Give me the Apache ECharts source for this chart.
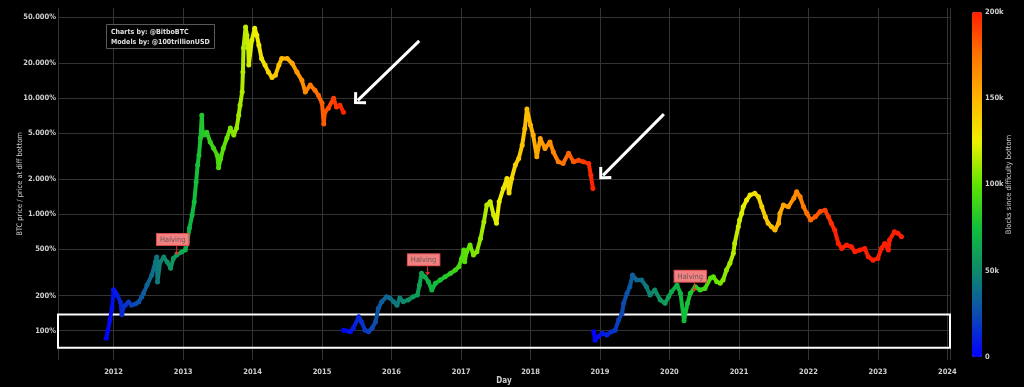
<!DOCTYPE html>
<html><head><meta charset="utf-8">
<script src="https://cdn.jsdelivr.net/npm/echarts@6/dist/echarts.min.js"></script>
<style>html,body{margin:0;padding:0;background:#000}#c{width:1024px;height:387px}</style>
</head><body><div id="c"></div>
<script>
// ---- DATA ----
// BTC price / price at difficulty bottom (%) per cycle
const cycle1 = [
['2011-11-24',86],['2011-12-02',100],['2011-12-13',124],['2011-12-24',157],['2012-01-01',225],['2012-01-10',215],
['2012-01-19',203],['2012-02-06',177],['2012-02-14',137],['2012-02-22',160],['2012-03-03',166],['2012-03-20',177],
['2012-04-05',166],['2012-04-25',170],['2012-05-12',177],['2012-05-28',195],['2012-06-07',211],['2012-06-25',247],
['2012-07-20',301],['2012-08-08',390],['2012-08-15',430],['2012-08-19',263],['2012-09-02',390],['2012-09-21',430],
['2012-10-09',390],['2012-10-27',345],['2012-11-11',420],['2012-11-28',448],['2012-12-24',475],['2013-01-12',494],
['2013-01-23',580],['2013-02-03',765],['2013-02-17',989],['2013-02-28',1280],['2013-03-10',1900],['2013-03-18',2660],
['2013-03-25',3240],['2013-04-02',4550],['2013-04-09',7160],['2013-04-13',5000],['2013-04-20',4820],['2013-05-05',5100],
['2013-05-23',4200],['2013-06-10',3720],['2013-06-29',3240],['2013-07-06',2520],['2013-07-17',3020],['2013-07-31',3720],
['2013-08-19',4550],['2013-09-06',5550],['2013-09-24',4820],['2013-10-09',5550],['2013-10-20',7160],['2013-10-27',8700],
['2013-11-07',11300],['2013-11-11',16800],['2013-11-14',27100],['2013-11-25',41000],['2013-12-02',34900],['2013-12-09',27100],
['2013-12-12',19300],['2013-12-28',31600],['2014-01-12',40000],['2014-01-23',34900],['2014-02-03',28600],['2014-02-17',22000],
['2014-03-07',19300],['2014-03-25',16800],['2014-04-13',15100],['2014-05-01',15800],['2014-05-19',19300],['2014-06-03',22000],
['2014-07-02',22000],['2014-07-28',20000],['2014-08-22',16800],['2014-09-17',14300],['2014-10-05',11300],['2014-10-31',13000],
['2014-11-25',11700],['2014-12-13',10600],['2015-01-01',9100],['2015-01-10',6000],['2015-01-16',7600],['2015-02-03',8200],
['2015-03-03',10000],['2015-03-18',8400],['2015-04-05',8700],['2015-04-24',7600]
];
const cycle2 = [
['2015-04-24',101],['2015-05-30',98],['2015-06-14',105],['2015-07-13',132],['2015-07-28',119],['2015-08-15',101],
['2015-09-02',98],['2015-09-21',105],['2015-10-09',119],['2015-10-24',156],['2015-11-11',178],['2015-12-06',196],
['2015-12-24',191],['2016-01-12',178],['2016-01-30',166],['2016-02-14',191],['2016-03-03',178],['2016-03-29',184],
['2016-04-24',196],['2016-05-16',203],['2016-05-27',247],['2016-06-07',312],['2016-06-25',291],['2016-07-13',264],
['2016-07-31',224],['2016-08-19',256],['2016-09-13',273],['2016-10-09',291],['2016-11-07',312],['2016-12-02',333],
['2016-12-20',355],['2017-01-04',419],['2017-01-15',494],['2017-01-20',393],['2017-01-30',478],['2017-02-17',546],
['2017-03-07',448],['2017-03-25',478],['2017-04-13',621],['2017-05-01',866],['2017-05-16',1205],['2017-06-03',1290],
['2017-06-21',989],['2017-07-06',840],['2017-07-20',1290],['2017-08-11',1670],['2017-08-30',2040],['2017-09-10',1530],
['2017-09-24',2040],['2017-10-13',2670],['2017-10-31',3030],['2017-11-18',3950],['2017-12-02',5500],['2017-12-13',8100],
['2018-01-01',5870],['2018-01-15',4820],['2018-02-03',3140],['2018-02-21',4500],['2018-03-18',3700],['2018-04-13',4200],
['2018-05-01',3450],['2018-05-27',2840],['2018-06-21',2750],['2018-07-20',3370],['2018-08-15',2840],['2018-09-10',2930],
['2018-10-05',2840],['2018-11-03',2750],['2018-11-14',2180],['2018-11-25',1670]
];
const cycle3 = [
['2018-11-29',98],['2018-12-06',83],['2018-12-24',89],['2019-01-12',95],['2019-02-06',92],['2019-03-03',98],
['2019-03-22',101],['2019-04-09',124],['2019-04-27',141],['2019-05-05',172],['2019-05-23',210],['2019-06-07',239],
['2019-06-21',301],['2019-07-13',273],['2019-08-08',273],['2019-09-02',239],['2019-09-21',203],['2019-10-16',224],
['2019-11-14',184],['2019-12-09',172],['2019-12-28',196],['2020-01-12',216],['2020-02-10',247],['2020-02-28',210],
['2020-03-18',122],['2020-04-05',172],['2020-04-20',210],['2020-05-16',239],['2020-06-10',224],['2020-07-06',231],
['2020-08-04',284],['2020-08-19',291],['2020-09-06',264],['2020-09-24',256],['2020-10-09',273],['2020-10-27',333],
['2020-11-14',380],['2020-12-02',463],['2020-12-09',563],['2020-12-28',784],['2021-01-04',896],['2021-01-15',1020],
['2021-01-23',1165],['2021-02-10',1330],['2021-02-28',1470],['2021-03-25',1520],['2021-04-13',1420],['2021-05-01',1165],
['2021-05-19',955],['2021-06-03',840],['2021-06-21',784],['2021-07-09',735],['2021-07-28',840],['2021-08-04',1020],
['2021-08-22',1205],['2021-09-17',1165],['2021-10-16',1380],['2021-10-31',1570],['2021-11-18',1420],['2021-12-06',1165],
['2021-12-24',1020],['2022-01-12',896],['2022-02-06',955],['2022-03-03',1060],['2022-03-29',1090],['2022-04-16',955],
['2022-05-01',840],['2022-05-19',735],['2022-06-07',563],['2022-06-25',510],['2022-07-20',546],['2022-08-15',528],
['2022-09-02',478],['2022-09-28',494],['2022-10-24',510],['2022-11-11',433],['2022-12-06',405],['2023-01-01',419],
['2023-01-19',510],['2023-02-06',563],['2023-02-25',494],['2023-03-03',603],['2023-03-29',710],['2023-04-16',690],
['2023-05-05',645]
];
// dates at which each cycle is at 0 and at 200k blocks since the difficulty bottom
const cycleBlockSpan = [['2011-11-22','2015-05-01'],['2015-04-15','2018-12-01'],['2018-11-25','2022-06-01']];
const yTicks = [100,200,500,1000,2000,5000,10000,20000,50000];
const blockTicks = [0,50000,100000,150000,200000];
const halvings = [['2012-11-28',448],['2016-07-09',300],['2020-05-11',216]];
const arrows = [
  [['2016-05-26',31190],['2015-07-08',9583]],
  [['2019-12-03',7300],['2019-01-17',2171]],
  [['2024-02-16',1469],['2023-06-21',615]]
];
const highlightBand = [71.4, 138];
const blockColors = ['#0000ff','#0c4cb0','#0e8a6a','#10bf3a','#60e400','#eef000','#ffb400','#ff7400','#ff1e00'];

// ---- CHART ----
const F = '"DejaVu Sans Condensed","DejaVu Sans",sans-serif';
const chart = echarts.init(document.getElementById('c'), null, {renderer:'canvas'});
const tparse = s => +echarts.time.parse(s);
function fmtPct(v){ return String(Math.round(v)).replace(/\B(?=(\d{3})+(?!\d))/g,'.') + '%'; }
const chevron = 'path://M8.5,0 L17,8.5 L14.88,10.62 L8.5,4.24 L2.12,10.62 L0,8.5 Z';
const smallArrow = 'path://M2,0 L3,0 L3,6 L5,6 L2.5,9 L0,6 L2,6 Z';
const lbl = {color:'#cfcfcf', fontSize:7.5, fontWeight:'bold', fontFamily:F};

const cycleSeries = [cycle1, cycle2, cycle3].map((d,i)=>({
  type:'line', data:d, xAxisIndex:0, yAxisIndex:0,
  symbol:'circle', symbolSize:5, showSymbol:true, showAllSymbol:true,
  lineStyle:{width:4, cap:'round', join:'round'}, itemStyle:{borderWidth:0},
  silent:true, animation:false, z:3
}));

const option = {
  backgroundColor:'#000',
  animation:false,
  title:{
    text:'Charts by: @BitboBTC\nModels by: @100trillionUSD', left:106, top:24,
    padding:[3,5,2,5], borderColor:'#5a5a5a', borderWidth:1, backgroundColor:'#000',
    textStyle:{color:'#e0e0e0', fontSize:7, fontWeight:'bold', lineHeight:10, fontFamily:F}
  },
  grid:[
    {left:58, right:74, top:8, bottom:27, outerBoundsMode:'none', containLabel:false},
    {left:972, top:12, width:10, height:345, outerBoundsMode:'none', containLabel:false}
  ],
  xAxis:[
    {type:'time', gridIndex:0, min:'2011-03-15', max:'2024-01-15',
     minInterval:360*864e5, maxInterval:370*864e5,
     axisLine:{show:false}, axisTick:{show:false},
     splitLine:{show:true, lineStyle:{color:'#333', width:1}},
     axisLabel:Object.assign({margin:8, showMinLabel:false, showMaxLabel:false,
       formatter:v=>String(new Date(v).getFullYear())}, lbl),
     name:'Day', nameLocation:'middle', nameGap:17, nameMoveOverlap:false,
     nameTextStyle:Object.assign({}, lbl, {fontSize:8, verticalAlign:'top'})},
    {type:'value', gridIndex:1, show:false, min:0, max:1}
  ],
  yAxis:[
    {type:'log', logBase:10, gridIndex:0, min:56, max:59800,
     axisLine:{show:false}, axisTick:{show:false, customValues:yTicks},
     axisLabel:Object.assign({customValues:yTicks, formatter:fmtPct, margin:2}, lbl),
     splitLine:{show:true, lineStyle:{color:'#333', width:1}},
     name:'BTC price / price at diff bottom', nameLocation:'middle', nameGap:34, nameMoveOverlap:false,
     nameTextStyle:Object.assign({}, lbl, {fontSize:7.5, fontWeight:'normal'})},
    {type:'value', gridIndex:1, min:0, max:200000, interval:50000, position:'right',
     axisLine:{show:false}, axisTick:{show:false}, splitLine:{show:false},
     axisLabel:Object.assign({margin:3, formatter:v=>v===0?'0':(v/1000)+'k'}, lbl),
     name:'Blocks since difficulty bottom', nameLocation:'middle', nameRotate:90, nameGap:23, nameMoveOverlap:false,
     nameTextStyle:Object.assign({}, lbl, {fontSize:7.5, fontWeight:'normal'})}
  ],
  visualMap:[
    ...cycleBlockSpan.map((s,i)=>({
      type:'continuous', show:false, seriesIndex:i, dimension:0,
      min:tparse(s[0]), max:tparse(s[1]),
      inRange:{color:blockColors}, outOfRange:{color:[blockColors[blockColors.length-1]]}
    })),
    {type:'continuous', show:true, seriesIndex:4, dimension:1, min:0, max:200000,
     left:972, top:12, itemWidth:10, itemHeight:345, padding:0, calculable:false,
     text:null, orient:'vertical', inRange:{color:blockColors}}
  ],
  series:[
    ...cycleSeries,
    {type:'line', data:[], xAxisIndex:0, yAxisIndex:0, clip:false, silent:true, z:6,
     markArea:{silent:true, itemStyle:{color:'rgba(0,0,0,0)', borderColor:'#fff', borderWidth:2},
       data:[[{yAxis:highlightBand[0]},{yAxis:highlightBand[1]}]]},
     markLine:{silent:true, animation:false, symbol:['none', chevron], symbolSize:[17,10.6],
       lineStyle:{color:'#fff', width:3, type:'solid'}, label:{show:false},
       emphasis:{disabled:true},
       data:arrows.map(a=>[{coord:a[0]},{coord:a[1]}])},
     markPoint:{silent:true, animation:false, symbol:smallArrow, symbolSize:[5,9], symbolOffset:[0,-4.5],
       symbolKeepAspect:false, itemStyle:{color:'#e8302f'},
       label:{show:true, position:'top', distance:1, offset:[-4,0], formatter:'Halving',
         backgroundColor:'#f28080', borderColor:'#d84a4a', borderWidth:1, padding:[2,3,1,3],
         color:'#6e5656', fontSize:7.5, fontFamily:F},
       data:halvings.map(h=>({coord:h}))}
    },
    {type:'scatter', xAxisIndex:1, yAxisIndex:1, data:[], silent:true}
  ]
};
chart.setOption(option);
</script></body></html>
